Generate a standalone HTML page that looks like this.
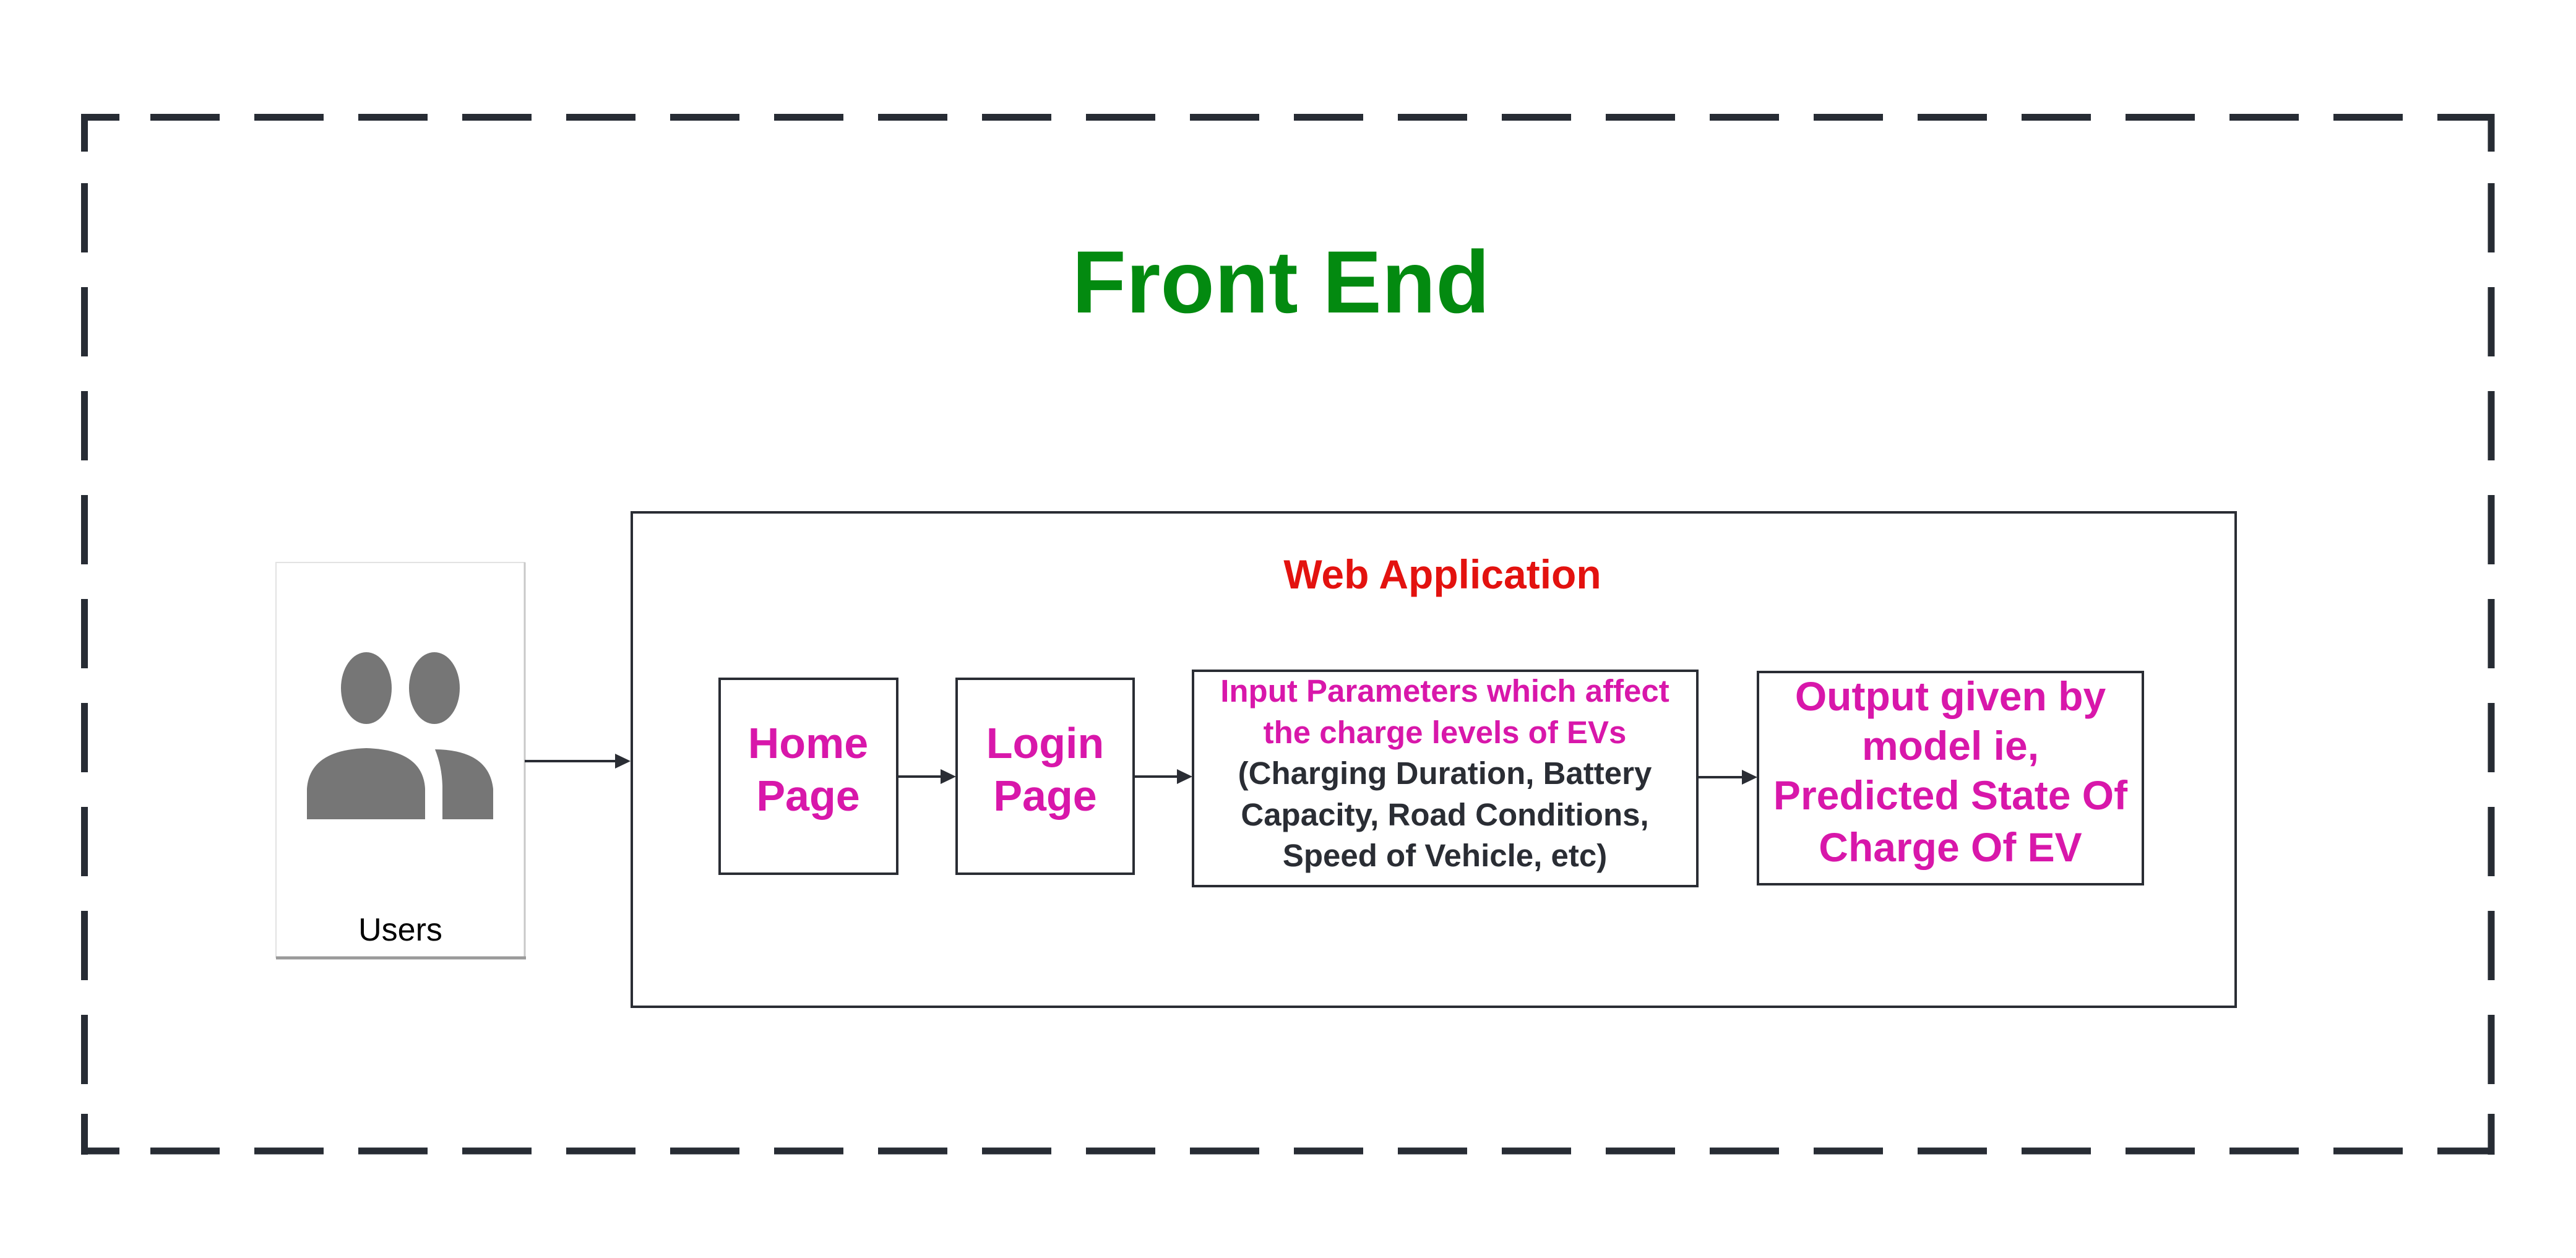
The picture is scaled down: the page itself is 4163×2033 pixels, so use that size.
<!DOCTYPE html>
<html><head><meta charset="utf-8"><style>html,body{margin:0;padding:0;background:#fff;overflow:hidden}svg{display:block}</style></head>
<body>
<svg width="4163" height="2033" viewBox="0 0 4163 2033" xmlns="http://www.w3.org/2000/svg">
<rect width="4163" height="2033" fill="#fff"/>
<g stroke="#272c34" stroke-width="11" fill="none" stroke-dasharray="112 56" stroke-dashoffset="56">
<line x1="131" y1="189.5" x2="4031" y2="189.5"/>
<line x1="136.5" y1="184" x2="136.5" y2="1866"/>
<line x1="4026" y1="184" x2="4026" y2="1866"/>
<line x1="131" y1="1860" x2="4031" y2="1860"/>
</g>
<g stroke="#272c34" stroke-width="11" fill="none">
<line x1="131" y1="189.5" x2="193" y2="189.5"/><line x1="136.5" y1="184" x2="136.5" y2="245"/>
<line x1="3970" y1="189.5" x2="4031" y2="189.5"/><line x1="4026" y1="184" x2="4026" y2="245"/>
<line x1="131" y1="1860" x2="193" y2="1860"/><line x1="136.5" y1="1800" x2="136.5" y2="1866"/>
<line x1="3970" y1="1860" x2="4031" y2="1860"/><line x1="4026" y1="1800" x2="4026" y2="1866"/>
</g>
<text x="2070" y="505" text-anchor="middle" font-family="Liberation Sans, sans-serif" font-weight="bold" font-size="143" fill="#038a10">Front End</text>

<rect x="446" y="909" width="402" height="638" fill="#fff" stroke="#e2e2e2" stroke-width="2"/>
<line x1="848" y1="909" x2="848" y2="1549" stroke="#c8c8c8" stroke-width="3"/>
<line x1="446" y1="1548" x2="850" y2="1548" stroke="#9a9a9a" stroke-width="5"/>
<g fill="#767676">
<ellipse cx="592" cy="1112" rx="41" ry="58"/>
<ellipse cx="702" cy="1112" rx="41" ry="58"/>
<path d="M496 1324 L496 1275 Q500 1212 592 1209 Q684 1212 687 1275 L687 1324 Z"/>
<path d="M715 1324 L715 1270 Q714 1238 703 1211 Q790 1212 797 1275 L797 1324 Z"/>
</g>
<text x="647" y="1520" text-anchor="middle" font-family="Liberation Sans, sans-serif" font-size="52" fill="#000">Users</text>

<rect x="1021" y="828" width="2592" height="799" fill="none" stroke="#2a2d34" stroke-width="4"/>
<text x="2331" y="951" text-anchor="middle" font-family="Liberation Sans, sans-serif" font-weight="bold" font-size="66" fill="#e3120f">Web Application</text>

<g fill="none" stroke="#2a2d34" stroke-width="4">
<rect x="1163" y="1097" width="287" height="315"/>
<rect x="1546" y="1097" width="286" height="315"/>
<rect x="1928" y="1084" width="815" height="348"/>
<rect x="2841" y="1086" width="622" height="343"/>
</g>

<g stroke="#2a2d34" stroke-width="4">
<line x1="848" y1="1230" x2="995" y2="1230"/>
<line x1="1450" y1="1255" x2="1522" y2="1255"/>
<line x1="1832" y1="1255" x2="1904" y2="1255"/>
<line x1="2743" y1="1256" x2="2815" y2="1256"/>
</g>
<g fill="#2a2d34">
<path d="M1019 1230 L994 1218 L994 1242 Z"/>
<path d="M1545 1255 L1520 1243 L1520 1267 Z"/>
<path d="M1927 1255 L1902 1243 L1902 1267 Z"/>
<path d="M2840 1256 L2815 1244 L2815 1268 Z"/>
</g>

<g font-family="Liberation Sans, sans-serif" font-weight="bold" text-anchor="middle">
<text x="1306" y="1225" font-size="70" fill="#d817aa">Home</text>
<text x="1306" y="1310" font-size="70" fill="#d817aa">Page</text>
<text x="1689" y="1225" font-size="70" fill="#d817aa">Login</text>
<text x="1689" y="1310" font-size="70" fill="#d817aa">Page</text>

<text x="2335" y="1134" font-size="51" fill="#d817aa">Input Parameters which affect</text>
<text x="2335" y="1201" font-size="51" fill="#d817aa">the charge levels of EVs</text>
<text x="2335" y="1267" font-size="51" fill="#2a2d34">(Charging Duration, Battery</text>
<text x="2335" y="1334" font-size="51" fill="#2a2d34">Capacity, Road Conditions,</text>
<text x="2335" y="1400" font-size="51" fill="#2a2d34">Speed of Vehicle, etc)</text>

<text x="3152" y="1148" font-size="66" fill="#d817aa">Output given by</text>
<text x="3152" y="1228" font-size="66" fill="#d817aa">model ie,</text>
<text x="3152" y="1308" font-size="66" fill="#d817aa">Predicted State Of</text>
<text x="3152" y="1392" font-size="66" fill="#d817aa">Charge Of EV</text>
</g>
</svg>
</body></html>
